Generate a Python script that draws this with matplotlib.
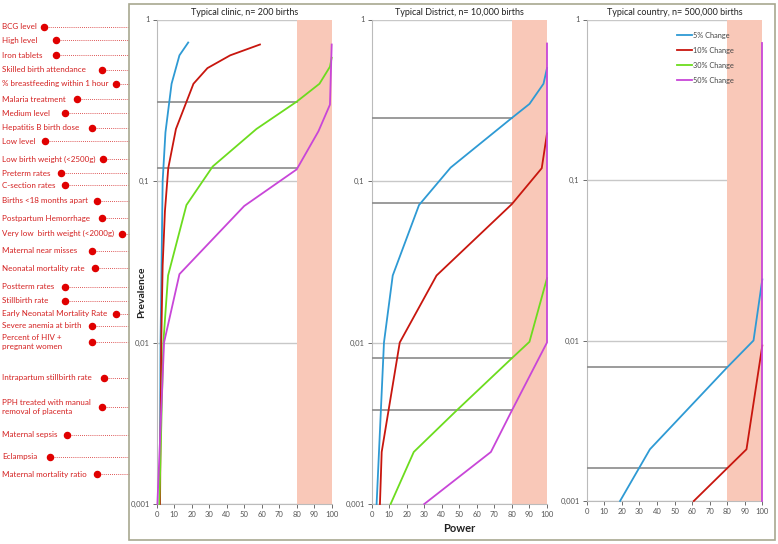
import matplotlib
matplotlib.use('Agg')
import matplotlib.pyplot as plt
import matplotlib.transforms as mtransforms
from matplotlib.patches import Rectangle
from matplotlib import font_manager

names = {f.name for f in font_manager.fontManager.ttflist}
narrow = 'Liberation Sans Narrow' if 'Liberation Sans Narrow' in names else 'Lato'
plt.rcParams['font.family'] = [narrow, 'DejaVu Sans']

# ---- data ----
panel_titles = ['Typical clinic, n= 200 births',
                'Typical District, n= 10,000 births',
                'Typical country, n= 500,000 births']
series_names = ['5% Change', '10% Change', '30% Change', '50% Change']

# (power, prevalence) pairs per panel and series
clinic_power = [
    [1.8, 2.2, 3.4, 5, 8.5, 13, 18],
    [1.9, 2.6, 3.4, 4.7, 6.6, 11, 21, 29, 42, 59],
    [1.5, 3.8, 6.5, 17, 32, 57, 80, 93, 99, 100],
    [0.4, 4.2, 13, 50, 80, 92.4, 99, 100],
]
clinic_prev = [
    [0.001, 0.01, 0.1, 0.2, 0.4, 0.6, 0.72],
    [0.001, 0.01, 0.03, 0.065, 0.12, 0.21, 0.4, 0.5, 0.6, 0.7],
    [0.001, 0.01, 0.026, 0.071, 0.123, 0.21, 0.31, 0.40, 0.51, 0.58],
    [0.001, 0.01, 0.0265, 0.07, 0.118, 0.203, 0.297, 0.70],
]
district_power = [
    [2.8, 7, 12, 27, 45, 80, 90, 98, 100],
    [4.7, 5.7, 16, 37, 80, 97, 100],
    [10.8, 24, 48.5, 80, 90, 100],
    [30, 68, 80, 100, 100],
]
district_prev = [
    [0.001, 0.01, 0.026, 0.071, 0.121, 0.246, 0.30, 0.40, 0.50],
    [0.001, 0.0021, 0.01, 0.026, 0.072, 0.12, 0.197],
    [0.001, 0.0021, 0.0038, 0.008, 0.0101, 0.025],
    [0.001, 0.0021, 0.0038, 0.01, 0.71],
]
country_power = [
    [19, 36, 80, 95, 100],
    [61, 91, 100],
    [],
    [100, 100],
]
country_prev = [
    [0.001, 0.0021, 0.0068, 0.01, 0.024],
    [0.001, 0.0021, 0.0093],
    [],
    [0.001, 0.71],
]
# prevalence where curves reach 80% power
ref_levels = [[0.31, 0.12], [0.246, 0.073, 0.008, 0.0038], [0.0068, 0.0016]]

indicators = ['BCG level', 'High level', 'Iron tablets', 'Skilled birth attendance',
              '% breastfeeding within 1 hour', 'Malaria treatment', 'Medium level',
              'Hepatitis B birth dose', 'Low level', 'Low birth weight (<2500g)',
              'Preterm rates', 'C-section rates', 'Births <18 months apart',
              'Postpartum Hemorrhage', 'Very low  birth weight (<2000g)',
              'Maternal near misses', 'Neonatal mortality rate', 'Postterm rates',
              'Stillbirth rate', 'Early Neonatal Mortality Rate', 'Severe anemia at birth',
              'Percent of HIV +\npregnant women', 'Intrapartum stillbirth rate',
              'PPH treated with manual\nremoval of placenta', 'Maternal sepsis',
              'Eclampsia', 'Maternal mortality ratio']
indicator_prev = [0.9, 0.745, 0.6, 0.49, 0.4, 0.32, 0.262, 0.213, 0.176, 0.136,
                  0.1115, 0.0944, 0.0752, 0.0586, 0.0473, 0.0371, 0.0289, 0.0222,
                  0.0181, 0.0151, 0.0127, 0.0101, 0.00606, 0.00399, 0.00269,
                  0.00196, 0.00153]
# dot x position (pixels from left)
dot_px = [44, 56, 56, 102, 116, 77, 65, 92, 45, 103, 61, 65, 97, 102, 122, 92, 95,
          65, 65, 116, 92, 92, 104, 102, 67, 50, 97]

colors = ['#2E9AD4', '#C8160E', '#6CDC1E', '#C846D8']
W, H = 778, 544

fig = plt.figure(figsize=(W / 100, H / 100), dpi=100)

# outer frame
fig.patches.append(Rectangle((129 / W, 4 / H), 646 / W, 536 / H, transform=fig.transFigure,
                             fill=False, edgecolor='#A8A890', lw=1.2))

boxes = [(156.7, 331.7, 19.5, 504), (371.7, 547.0, 19.5, 504), (586.7, 762.3, 19.5, 501)]
all_power = [clinic_power, district_power, country_power]
all_prev = [clinic_prev, district_prev, country_prev]
axes = []
for i, (x0, x1, y0, y1) in enumerate(boxes):
    ax = fig.add_axes([x0 / W, 1 - y1 / H, (x1 - x0) / W, (y1 - y0) / H])
    axes.append(ax)
    ax.set_yscale('log')
    ax.set_ylim(0.001, 1)
    ax.set_xlim(0, 100)
    for lvl in [1, 0.1, 0.01, 0.001]:
        ax.axhline(lvl, color='#C8C8C8', lw=1.0, zorder=1)
    ax.axvspan(80, 100, color='#F9C8B8', lw=0, zorder=2)
    for lvl in ref_levels[i]:
        ax.plot([0, 80], [lvl, lvl], color='#8A8A8A', lw=1.2, zorder=3)
    for k in range(4):
        if all_power[i][k]:
            ax.plot(all_power[i][k], all_prev[i][k], color=colors[k], lw=1.3, zorder=4,
                    label=series_names[k], clip_on=False)
        else:
            ax.plot([], [], color=colors[k], lw=1.3, label=series_names[k])
    ax.set_yticks([0.001, 0.01, 0.1, 1])
    ax.set_yticklabels(['0,001', '0,01', '0,1', '1'])
    ax.minorticks_off()
    ax.set_xticks(range(0, 101, 10))
    ax.tick_params(labelsize=5.5, colors='#555555', length=3, width=0.6, pad=2)
    for s in ['top', 'right']:
        ax.spines[s].set_visible(False)
    for s in ['left', 'bottom']:
        ax.spines[s].set_color('#BBBBBB')
        ax.spines[s].set_linewidth(0.8)
    ax.set_title(panel_titles[i], fontsize=6.5, color='#222222', pad=3)

leg = axes[2].legend(loc='upper left', bbox_to_anchor=(0.515, 0.975), frameon=False,
                     fontsize=5.3, handlelength=2.0, handletextpad=0.1, labelspacing=1.1,
                     borderpad=0, borderaxespad=0)
for t in leg.get_texts():
    t.set_color('#444444')

fig.text(459 / W, 1 - 528 / H, 'Power', ha='center', va='center', fontsize=8,
         fontweight='bold', color='#222222')
fig.text(142 / W, 1 - 292 / H, 'Prevalence', ha='center', va='center', rotation=90,
         fontsize=7.5, fontweight='bold', color='#222222')

# indicator labels on the left, aligned with prevalence on the y axis
trans = mtransforms.blended_transform_factory(fig.transFigure, axes[0].transData)
for name, p, dx in zip(indicators, indicator_prev, dot_px):
    axes[0].plot([dx / W, 129 / W], [p, p], transform=trans, clip_on=False,
                 color='#D42020', lw=0.6, ls=(0, (1, 1.5)), zorder=5)
    axes[0].plot([dx / W], [p], 'o', transform=trans, clip_on=False,
                 color='#E00000', ms=4.4, zorder=6)
    axes[0].text(2 / W, p, name, transform=trans, ha='left', va='center',
                 fontsize=5.8, color='#D42020', linespacing=1.3)

plt.savefig('out.png', dpi=100)
